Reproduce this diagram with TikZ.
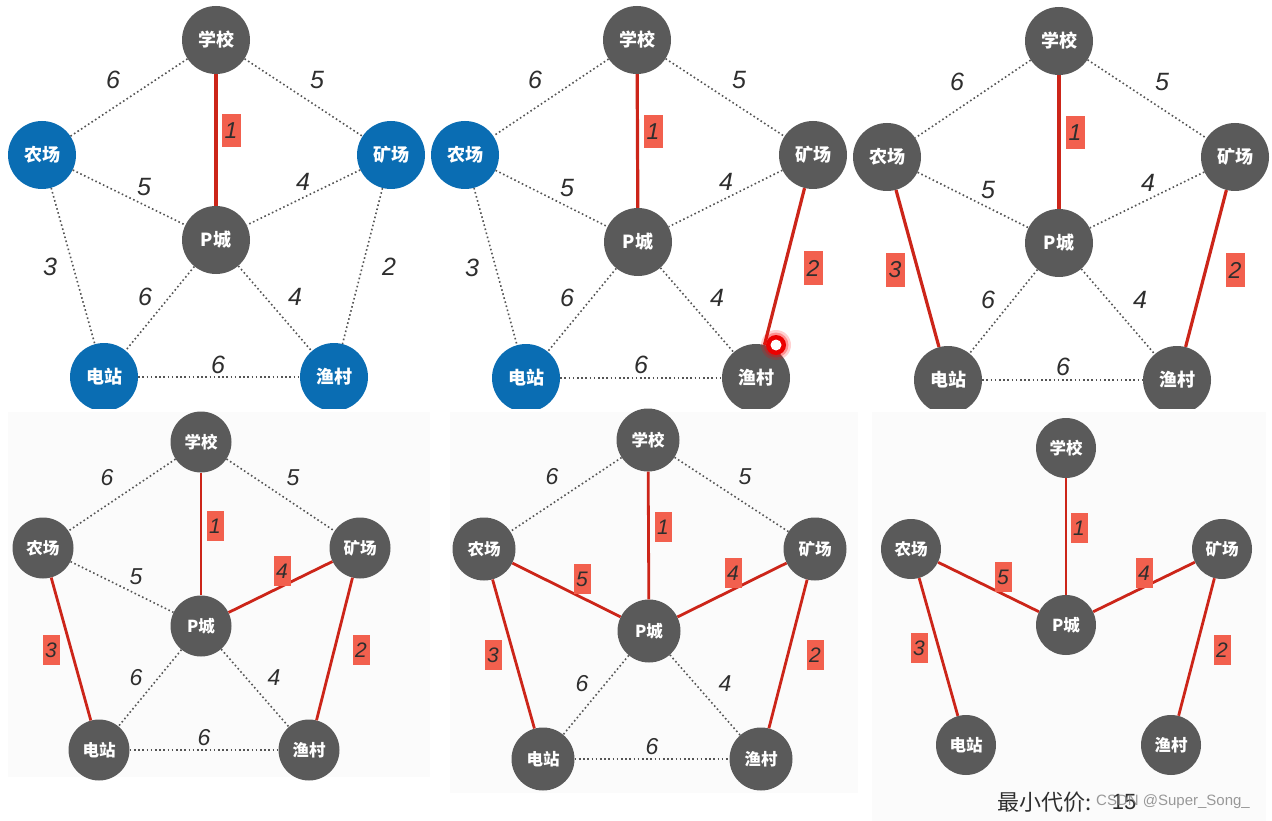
\documentclass[tikz,border=0pt]{standalone}
\usepackage{fontspec}
\setmainfont{Liberation Sans}
\newfontfamily\cjk{Noto Sans CJK SC}
\definecolor{ngray}{HTML}{5A5A5A}
\definecolor{nblue}{HTML}{0A6DB3}
\definecolor{ered}{HTML}{CC2519}
\definecolor{bred}{HTML}{F2604E}
\definecolor{dotc}{HTML}{555555}
\definecolor{numc}{HTML}{2E2E2E}
\definecolor{panelbg}{HTML}{FBFBFB}
\tikzset{
  vtx/.style={circle, fill=ngray, inner sep=0pt, minimum size=68pt, text=white, font=\cjk\bfseries\fontsize{18}{18}\selectfont},
  vtxs/.style={vtx, minimum size=61pt, font=\cjk\bfseries\fontsize{16.5}{16.5}\selectfont},
  bluev/.style={fill=nblue},
  dotedge/.style={draw=dotc, line width=1.6pt, dash pattern=on 1.6pt off 2.6pt},
  redge/.style={draw=ered, line width=3.2pt},
  redges/.style={draw=ered, line width=2.8pt},
  wnum/.style={font=\itshape\fontsize{25}{25}\selectfont, text=numc, inner sep=0pt},
  wnums/.style={font=\itshape\fontsize{23}{23}\selectfont, text=numc, inner sep=0pt},
  rbox/.style={fill=bred, text=numc, inner sep=0pt, minimum width=19pt, minimum height=33pt, font=\itshape\fontsize{23}{23}\selectfont},
  rboxs/.style={rbox, minimum width=17pt, minimum height=30pt, font=\itshape\fontsize{21}{21}\selectfont},
}
\begin{document}
\begin{tikzpicture}[x=1pt,y=-1pt]
\useasboundingbox (0,0) rectangle (1272,821);
\fill[white] (0,0) rectangle (1272,821);
% light backgrounds of bottom panels
\fill[panelbg] (8,412) rectangle (430,777);
\fill[panelbg] (450,412) rectangle (858,793);
\fill[panelbg] (872,412) rectangle (1266,821);

% ===================== top row =====================
\begin{scope}
\clip (0,0) rectangle (1272,408);
% ---- panel 1 ----
\node[vtx] (a-s) at (216,40) {学校};
\node[vtx,bluev] (a-f) at (42,155) {农场};
\node[vtx,bluev] (a-k) at (391,155) {矿场};
\node[vtx] (a-c) at (216,240) {P城};
\node[vtx,bluev] (a-d) at (104,377) {电站};
\node[vtx,bluev] (a-y) at (334,377) {渔村};
\draw[dotedge] (a-s) -- (a-f);
\draw[dotedge] (a-s) -- (a-k);
\draw[dotedge] (a-f) -- (a-c);
\draw[dotedge] (a-k) -- (a-c);
\draw[dotedge] (a-f) -- (a-d);
\draw[dotedge] (a-k) -- (a-y);
\draw[dotedge] (a-c) -- (a-d);
\draw[dotedge] (a-c) -- (a-y);
\draw[dotedge] (a-d) -- (a-y);
\draw[redge] (a-s) -- (a-c);
\node[wnum] (a-l1) at (113,80) {6};
\node[wnum] (a-l2) at (317,80) {5};
\node[rbox] (a-l3) at (231,131) {1};
\node[wnum] (a-l4) at (144,187) {5};
\node[wnum] (a-l5) at (303,182) {4};
\node[wnum] (a-l6) at (50,267) {3};
\node[wnum] (a-l7) at (389,267) {2};
\node[wnum] (a-l8) at (145,297) {6};
\node[wnum] (a-l9) at (295,297) {4};
\node[wnum] (a-l10) at (218,365) {6};

% ---- panel 2 ----
\node[vtx] (b-s) at (637,40) {学校};
\node[vtx,bluev] (b-f) at (465,155) {农场};
\node[vtx] (b-k) at (813,155) {矿场};
\node[vtx] (b-c) at (638,242) {P城};
\node[vtx,bluev] (b-d) at (526,378) {电站};
\node[vtx] (b-y) at (756,378) {渔村};
\draw[dotedge] (b-s) -- (b-f);
\draw[dotedge] (b-s) -- (b-k);
\draw[dotedge] (b-f) -- (b-c);
\draw[dotedge] (b-k) -- (b-c);
\draw[dotedge] (b-f) -- (b-d);
\draw[dotedge] (b-c) -- (b-d);
\draw[dotedge] (b-c) -- (b-y);
\draw[dotedge] (b-d) -- (b-y);
\draw[redge] (b-s) -- (b-c);
\draw[redge] (b-k) -- (b-y);
\node[wnum] (b-l1) at (535,80) {6};
\node[wnum] (b-l2) at (739,80) {5};
\node[rbox] (b-l3) at (653,132) {1};
\node[wnum] (b-l4) at (567,188) {5};
\node[wnum] (b-l5) at (726,182) {4};
\node[wnum] (b-l6) at (472,268) {3};
\node[rbox] (b-l7) at (813,268) {2};
\node[wnum] (b-l8) at (567,298) {6};
\node[wnum] (b-l9) at (717,298) {4};
\node[wnum] (b-l10) at (641,365) {6};
% cursor highlight
\fill[red, opacity=0.18] (776,345) circle (15);
\fill[red, opacity=0.3] (776,345) circle (12.5);
\fill[red!92!black] (776,345) circle (10);
\fill[white] (776,345) circle (5.5);

% ---- panel 3 ----
\node[vtx] (c-s) at (1059,41) {学校};
\node[vtx] (c-f) at (887,157) {农场};
\node[vtx] (c-k) at (1235,157) {矿场};
\node[vtx] (c-c) at (1059,243) {P城};
\node[vtx] (c-d) at (948,380) {电站};
\node[vtx] (c-y) at (1177,380) {渔村};
\draw[dotedge] (c-s) -- (c-f);
\draw[dotedge] (c-s) -- (c-k);
\draw[dotedge] (c-f) -- (c-c);
\draw[dotedge] (c-k) -- (c-c);
\draw[dotedge] (c-c) -- (c-d);
\draw[dotedge] (c-c) -- (c-y);
\draw[dotedge] (c-d) -- (c-y);
\draw[redge] (c-s) -- (c-c);
\draw[redge] (c-k) -- (c-y);
\draw[redge] (c-f) -- (c-d);
\node[wnum] (c-l1) at (957,82) {6};
\node[wnum] (c-l2) at (1162,82) {5};
\node[rbox] (c-l3) at (1075,133) {1};
\node[wnum] (c-l4) at (988,190) {5};
\node[wnum] (c-l5) at (1148,183) {4};
\node[rbox] (c-l6) at (895,270) {3};
\node[rbox] (c-l7) at (1235,270) {2};
\node[wnum] (c-l8) at (988,300) {6};
\node[wnum] (c-l9) at (1140,300) {4};
\node[wnum] (c-l10) at (1063,367) {6};
\end{scope}

% ===================== bottom row =====================
% ---- panel 4 ----
\node[vtxs] (d-s) at (201,442) {学校};
\node[vtxs] (d-f) at (43,548) {农场};
\node[vtxs] (d-k) at (360,548) {矿场};
\node[vtxs] (d-c) at (201,626) {P城};
\node[vtxs] (d-d) at (99,750) {电站};
\node[vtxs] (d-y) at (309,750) {渔村};
\draw[dotedge] (d-s) -- (d-f);
\draw[dotedge] (d-s) -- (d-k);
\draw[dotedge] (d-f) -- (d-c);
\draw[dotedge] (d-c) -- (d-d);
\draw[dotedge] (d-c) -- (d-y);
\draw[dotedge] (d-d) -- (d-y);
\draw[redges] (d-s) -- (d-c);
\draw[redges] (d-k) -- (d-y);
\draw[redges] (d-f) -- (d-d);
\draw[redges] (d-k) -- (d-c);
\node[wnums] (d-l1) at (107,478) {6};
\node[wnums] (d-l2) at (293,478) {5};
\node[rboxs] (d-l3) at (215,526) {1};
\node[wnums] (d-l4) at (136,577) {5};
\node[rboxs] (d-l5) at (282,571) {4};
\node[rboxs] (d-l6) at (51,650) {3};
\node[rboxs] (d-l7) at (361,650) {2};
\node[wnums] (d-l8) at (136,678) {6};
\node[wnums] (d-l9) at (274,678) {4};
\node[wnums] (d-l10) at (204,738) {6};

% ---- panel 5 ----
\node[vtxs, minimum size=63pt] (e-s) at (648,440) {学校};
\node[vtxs, minimum size=63pt] (e-f) at (484,549) {农场};
\node[vtxs, minimum size=63pt] (e-k) at (815,549) {矿场};
\node[vtxs, minimum size=63pt] (e-c) at (649,631) {P城};
\node[vtxs, minimum size=63pt] (e-d) at (543,759) {电站};
\node[vtxs, minimum size=63pt] (e-y) at (761,759) {渔村};
\draw[dotedge] (e-s) -- (e-f);
\draw[dotedge] (e-s) -- (e-k);
\draw[dotedge] (e-c) -- (e-d);
\draw[dotedge] (e-c) -- (e-y);
\draw[dotedge] (e-d) -- (e-y);
\draw[redges] (e-s) -- (e-c);
\draw[redges] (e-k) -- (e-y);
\draw[redges] (e-f) -- (e-d);
\draw[redges] (e-k) -- (e-c);
\draw[redges] (e-f) -- (e-c);
\node[wnums] (e-l1) at (552,477) {6};
\node[wnums] (e-l2) at (745,477) {5};
\node[rboxs] (e-l3) at (663,527) {1};
\node[rboxs] (e-l4) at (582,579) {5};
\node[rboxs] (e-l5) at (733,573) {4};
\node[rboxs] (e-l6) at (493,655) {3};
\node[rboxs] (e-l7) at (815,655) {2};
\node[wnums] (e-l8) at (582,684) {6};
\node[wnums] (e-l9) at (725,684) {4};
\node[wnums] (e-l10) at (652,747) {6};

% ---- panel 6 ----
\node[vtxs, minimum size=60pt] (f-s) at (1066,448) {学校};
\node[vtxs, minimum size=60pt] (f-f) at (911,549) {农场};
\node[vtxs, minimum size=60pt] (f-k) at (1222,549) {矿场};
\node[vtxs, minimum size=60pt] (f-c) at (1066,625) {P城};
\node[vtxs, minimum size=60pt] (f-d) at (966,745) {电站};
\node[vtxs, minimum size=60pt] (f-y) at (1171,745) {渔村};
\draw[redges] (f-s) -- (f-c);
\draw[redges] (f-k) -- (f-y);
\draw[redges] (f-f) -- (f-d);
\draw[redges] (f-k) -- (f-c);
\draw[redges] (f-f) -- (f-c);
\node[rboxs] (f-l3) at (1079,528) {1};
\node[rboxs] (f-l4) at (1003,577) {5};
\node[rboxs] (f-l5) at (1144,573) {4};
\node[rboxs] (f-l6) at (919,648) {3};
\node[rboxs] (f-l7) at (1222,650) {2};

% total cost and watermark (overlapping as in the original screenshot)
\node[anchor=west, inner sep=0pt, text=numc, font=\cjk\fontsize{22}{22}\selectfont] (cost) at (997,802) {最小代价:};
\node[inner sep=0pt, text=numc, font=\fontsize{22}{22}\selectfont] (costv) at (1124,802) {15};
\node[anchor=west, inner sep=0pt, text=gray, opacity=0.8, font=\fontsize{15}{15}\selectfont] (wm) at (1096,802) {CSDN @Super\_Song\_};
\end{tikzpicture}
\end{document}
